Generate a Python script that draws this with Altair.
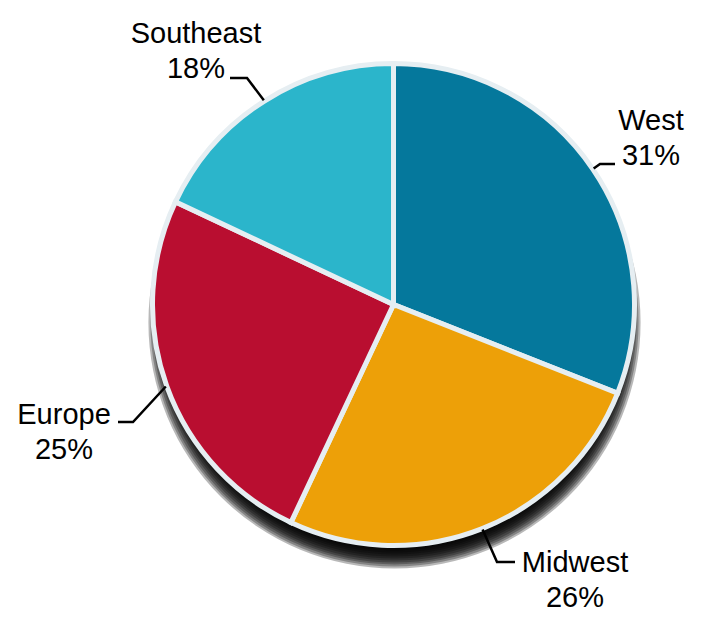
import altair as alt
import pandas as pd
import numpy as np

# ---- data ----
regions = ["West", "Midwest", "Europe", "Southeast"]
shares = [31, 26, 25, 18]
pct_labels = ["31%", "26%", "25%", "18%"]
colors = ["#05789C", "#EDA008", "#B90E30", "#2BB5CB"]

# ---- layout (chart pixel coordinates) ----
W, H = 702, 617
CX, CY = 385.5, 296.5
R_ARC = 241
R_EDGE = 242
label_x = [643, 567, 56, 188]
label_base = [122, 564, 416, 35]
line_gap = 34
elbow_x = [592, 489, 125, 239]
elbow_y = [156, 554, 414, 70]
end_x = [607, 507, 110, 222]
end_y = [156, 554, 414, 70]

FONT = "Liberation Sans"

# pie slices
pie_df = pd.DataFrame({"region": regions, "share": shares, "idx": range(len(regions))})

# leader lines: start at slice mid-angle on the pie edge
total = sum(shares)
cum = np.cumsum([0] + shares[:-1])
rows = []
for i, reg in enumerate(regions):
    a = (cum[i] + shares[i] / 2) / total * 2 * np.pi
    sx = CX + R_EDGE * np.sin(a)
    sy = CY - R_EDGE * np.cos(a)
    rows.append({"region": reg, "step": 0, "px": sx, "py": sy})
    rows.append({"region": reg, "step": 1, "px": elbow_x[i], "py": elbow_y[i]})
    rows.append({"region": reg, "step": 2, "px": end_x[i], "py": end_y[i]})
line_df = pd.DataFrame(rows)

trows = []
for i, reg in enumerate(regions):
    trows.append({"t": reg, "px": label_x[i], "py": label_base[i]})
    trows.append({"t": pct_labels[i], "px": label_x[i], "py": label_base[i] + line_gap + 1})
text_df = pd.DataFrame(trows)

one = pd.DataFrame({"a": [0]})

# shadow: stacked translucent circles to imitate a blur
shadow_layers = []
for r in range(220, 248, 2):
    shadow_layers.append(
        alt.Chart(one).mark_arc(color="black", opacity=0.28, radius=r)
        .encode(theta=alt.value(0), theta2=alt.value(2 * np.pi),
                x=alt.value(CX + 1), y=alt.value(CY + 18))
    )

pie = alt.Chart(pie_df).mark_arc(outerRadius=R_ARC, stroke="#E6EEF2", strokeWidth=5).encode(
    theta=alt.Theta("share:Q", stack=True),
    color=alt.Color("region:N", scale=alt.Scale(domain=regions, range=colors), legend=None),
    order=alt.Order("idx:Q"),
    x=alt.value(CX),
    y=alt.value(CY),
)

lines = alt.Chart(line_df).mark_line(color="black", strokeWidth=2.5).encode(
    x=alt.X("px:Q", scale=None, axis=None),
    y=alt.Y("py:Q", scale=None, axis=None),
    detail="region:N",
    order="step:Q",
)

texts = alt.Chart(text_df).mark_text(
    align="center", baseline="alphabetic", fontSize=29, font=FONT, color="black"
).encode(
    x=alt.X("px:Q", scale=None, axis=None),
    y=alt.Y("py:Q", scale=None, axis=None),
    text="t:N",
)

chart = alt.layer(*shadow_layers, pie, lines, texts).properties(
    width=W, height=H, autosize=alt.AutoSizeParams(type="none"), padding=0, background="white"
).configure_view(stroke=None)

chart.save("out.html", embed_options={"renderer": "svg", "actions": False})
